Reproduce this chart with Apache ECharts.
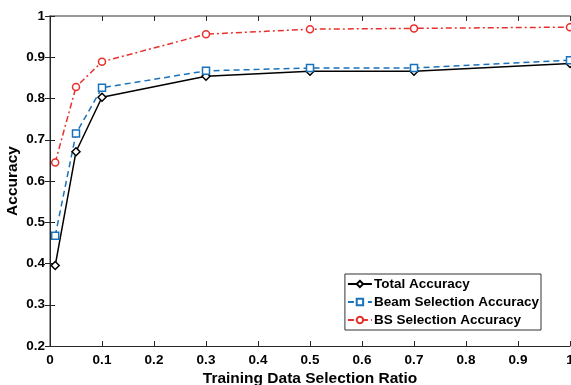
<!DOCTYPE html>
<html><head><meta charset="utf-8">
<script src="https://cdn.jsdelivr.net/npm/echarts@6/dist/echarts.min.js"></script>
<style>html,body{margin:0;padding:0;background:#fff}#c{width:571px;height:385px}</style>
</head><body><div id="c"></div>
<script>
var ratios = [0.01, 0.05, 0.1, 0.3, 0.5, 0.7, 1.0];
var totalAcc = [0.395, 0.671, 0.803, 0.854, 0.866, 0.866, 0.885];
var beamAcc = [0.467, 0.715, 0.826, 0.867, 0.874, 0.874, 0.893];
var bsAcc = [0.645, 0.828, 0.889, 0.956, 0.968, 0.970, 0.973];
var seriesNames = ['Total Accuracy', 'Beam Selection Accuracy', 'BS Selection Accuracy'];
var xTitle = 'Training Data Selection Ratio';
var yTitle = 'Accuracy';

function pairs(xs, ys){ return xs.map(function(x,i){return [x, ys[i]];}); }
var font = 'Liberation Sans, Arial, Helvetica, sans-serif';
var axisCol = '#262626';
function mkSeries(name, ys, color, type, symbol, size){
  return {
    name: name, type: 'line', data: pairs(ratios, ys), xAxisIndex: 0, yAxisIndex: 0,
    symbol: symbol, symbolSize: size, showAllSymbol: true,
    lineStyle: {color: color, width: 1.5, type: type},
    itemStyle: {color: '#fff', borderColor: color, borderWidth: 1.5},
    emphasis: {disabled: true}, animation: false, z: 3
  };
}
var chart = echarts.init(document.getElementById('c'));
chart.setOption({
  animation: false,
  grid: {left: 50, right: 1, top: 16, bottom: 39, outerBoundsMode: 'none', containLabel: false},
  legend: {
    right: 30, top: 274, orient: 'vertical', itemGap: 4, itemWidth: 24, itemHeight: 8,
    padding: [3, 2, 3, 2], borderColor: '#333', borderWidth: 1, backgroundColor: '#fff',
    textStyle: {fontFamily: font, fontWeight: 'bold', fontSize: 13.5, color: '#000', padding: [0,0,0,-3]},
    data: seriesNames
  },
  xAxis: [{
    type: 'value', min: 0, max: 1, interval: 0.1, position: 'bottom',
    name: xTitle, nameLocation: 'middle', nameGap: 25, nameMoveOverlap: false,
    nameTextStyle: {fontFamily: font, fontWeight: 'bold', fontSize: 15.5, color: '#000'},
    axisLine: {show: true, lineStyle: {color: axisCol, width: 1}},
    axisTick: {show: true, inside: true, length: 5, lineStyle: {color: axisCol}},
    axisLabel: {fontFamily: font, fontWeight: 'bold', fontSize: 13.5, color: '#000', margin: 7},
    splitLine: {show: false}
  }, {
    type: 'value', min: 0, max: 1, interval: 0.1, position: 'top',
    axisLine: {show: true, lineStyle: {color: '#777', width: 1.5}},
    axisTick: {show: true, inside: true, length: 5, lineStyle: {color: axisCol}},
    axisLabel: {show: false}, splitLine: {show: false}
  }],
  yAxis: [{
    type: 'value', min: 0.2, max: 1, interval: 0.1, position: 'left',
    name: yTitle, nameLocation: 'middle', nameGap: 29, nameMoveOverlap: false,
    nameTextStyle: {fontFamily: font, fontWeight: 'bold', fontSize: 15.5, color: '#000'},
    axisLine: {show: true, lineStyle: {color: '#777', width: 1.5}},
    axisTick: {show: true, inside: true, length: 5, lineStyle: {color: axisCol}},
    axisLabel: {fontFamily: font, fontWeight: 'bold', fontSize: 13.5, color: '#000', margin: 5},
    splitLine: {show: false}
  }, {
    type: 'value', min: 0.2, max: 1, interval: 0.1, position: 'right',
    axisLine: {show: true, lineStyle: {color: axisCol, width: 1}},
    axisTick: {show: true, inside: true, length: 5, lineStyle: {color: axisCol}},
    axisLabel: {show: false}, splitLine: {show: false}
  }],
  series: [
    mkSeries(seriesNames[0], totalAcc, '#000000', 'solid', 'diamond', 8),
    mkSeries(seriesNames[1], beamAcc, '#1a72bb', [6, 4], 'rect', 7),
    mkSeries(seriesNames[2], bsAcc, '#e8302c', [6, 3, 2, 3], 'circle', 7)
  ]
});
</script></body></html>
